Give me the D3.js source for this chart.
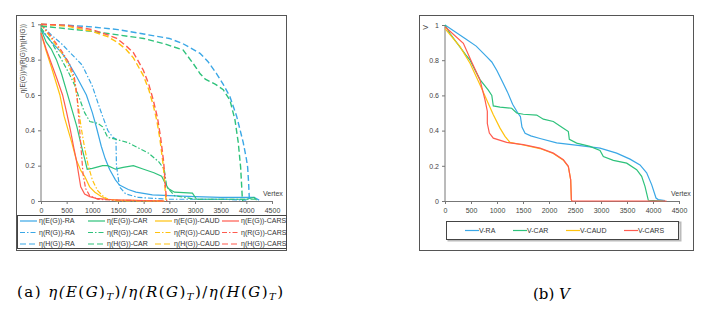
<!DOCTYPE html>
<html><head><meta charset="utf-8">
<script src="https://cdn.jsdelivr.net/npm/d3@7"></script>
<style>body{margin:0;background:#fff}svg{display:block}</style>
</head><body>
<svg id="c" width="715" height="311"></svg>
<script>
const xTicks = [0,500,1000,1500,2000,2500,3000,3500,4000,4500];
const yTicks = [0,0.2,0.4,0.6,0.8,1];
const methods = ["RA","CAR","CAUD","CARS"];
const colors = {RA:"#3aa7e6",CAR:"#2ec27b",CAUD:"#ffc20e",CARS:"#ff5b4f"};

// Left panel: eta(E(G)), eta(R(G)), eta(H(G)) per method: [vertex, value]
const E_RA = [[0,0.97],[200,0.9],[400,0.84],[500,0.8],[700,0.7],[884,0.6],[1000,0.5],[1077,0.42],[1174,0.31],[1250,0.24],[1335,0.18],[1450,0.12],[1530,0.09],[1700,0.065],[1850,0.05],[2170,0.035],[2500,0.03],[3000,0.025],[3500,0.02],[4000,0.02],[4150,0.02],[4250,0.005]];
const E_CAR = [[0,0.97],[100,0.9],[200,0.86],[300,0.8],[400,0.72],[500,0.62],[600,0.52],[700,0.42],[780,0.32],[850,0.24],[900,0.18],[1000,0.185],[1200,0.2],[1300,0.2],[1450,0.18],[1600,0.19],[1800,0.2],[2000,0.18],[2200,0.16],[2350,0.14],[2420,0.1],[2480,0.07],[2600,0.05],[2950,0.045],[3030,0.01],[4000,0.01],[4150,0.02],[4200,0.005]];
const E_CAUD = [[0,0.95],[100,0.85],[200,0.76],[368,0.6],[450,0.48],[530,0.4],[600,0.33],[690,0.23],[780,0.17],[850,0.14],[948,0.08],[1050,0.05],[1174,0.025],[1300,0.01],[1500,0.005],[2400,0]];
const E_CARS = [[0,0.95],[100,0.86],[200,0.78],[300,0.7],[420,0.6],[500,0.5],[574,0.4],[640,0.3],[690,0.23],[740,0.14],[774,0.08],[850,0.04],[950,0.025],[1077,0.015],[1400,0.007],[2400,0]];
const R_RA = [[0,1],[200,0.94],[400,0.89],[600,0.83],[800,0.77],[1000,0.65],[1150,0.52],[1300,0.4],[1400,0.36],[1460,0.35],[1470,0.2],[1530,0.08],[1650,0.04],[1900,0.02],[2500,0.01],[3500,0.01],[4000,0.005]];
const R_CAR = [[0,0.98],[200,0.9],[400,0.8],[550,0.72],[650,0.66],[750,0.58],[850,0.5],[950,0.45],[1100,0.44],[1200,0.42],[1300,0.36],[1450,0.35],[1700,0.33],[1900,0.3],[2100,0.27],[2300,0.22],[2400,0.18],[2450,0.08],[2600,0.03],[3000,0.01],[4000,0.01],[4200,0.01]];
const R_CAUD = [[0,1],[200,0.92],[400,0.84],[550,0.76],[650,0.68],[720,0.55],[780,0.42],[850,0.3],[920,0.2],[1000,0.12],[1100,0.06],[1200,0.03],[1300,0.01],[1500,0],[2400,0]];
const R_CARS = [[0,1],[200,0.93],[400,0.85],[550,0.78],[650,0.7],[700,0.6],[740,0.45],[780,0.3],[820,0.15],[870,0.07],[950,0.03],[1100,0.01],[1400,0.005],[2400,0]];
const H_RA = [[0,1],[500,0.995],[1000,0.985],[1500,0.97],[2000,0.945],[2500,0.92],[2766,0.89],[3097,0.836],[3250,0.79],[3422,0.72],[3550,0.66],[3681,0.59],[3811,0.48],[3880,0.4],[3940,0.33],[4000,0.24],[4026,0.19],[4045,0.1],[4057,0.02],[4060,0]];
const H_CAR = [[0,0.99],[500,0.975],[1000,0.96],[1500,0.94],[2000,0.92],[2400,0.89],[2766,0.855],[2960,0.78],[3100,0.72],[3200,0.69],[3400,0.66],[3550,0.63],[3681,0.57],[3778,0.46],[3843,0.33],[3889,0.19],[3910,0.08],[3921,0.02],[3930,0]];
const H_CAUD = [[0,1],[500,0.99],[1000,0.96],[1300,0.93],[1476,0.9],[1650,0.86],[1800,0.81],[1994,0.71],[2100,0.63],[2188,0.54],[2260,0.45],[2317,0.35],[2382,0.2],[2410,0.1],[2430,0.02],[2440,0]];
const H_CARS = [[0,1],[500,0.995],[1000,0.97],[1300,0.94],[1476,0.92],[1650,0.88],[1800,0.84],[1994,0.74],[2100,0.66],[2188,0.57],[2270,0.47],[2330,0.36],[2390,0.22],[2420,0.1],[2440,0.02],[2450,0]];

// Right panel: V per method
const V_RA = [[0,1],[200,0.96],[400,0.92],[600,0.88],[800,0.82],[900,0.79],[1000,0.74],[1100,0.68],[1200,0.62],[1300,0.55],[1400,0.5],[1450,0.48],[1480,0.42],[1540,0.385],[1650,0.37],[1827,0.355],[2147,0.33],[2596,0.315],[2981,0.3],[3301,0.272],[3558,0.238],[3750,0.205],[3878,0.16],[3974,0.093],[4058,0.017],[4100,0.008],[4230,0.003]];
const V_CAR = [[0,1],[100,0.95],[200,0.91],[300,0.87],[400,0.83],[481,0.8],[550,0.76],[673,0.69],[833,0.63],[900,0.6],[929,0.54],[1058,0.533],[1282,0.527],[1378,0.5],[1506,0.493],[1763,0.488],[1891,0.465],[2083,0.452],[2276,0.414],[2372,0.395],[2391,0.35],[2532,0.329],[2788,0.31],[2981,0.287],[3045,0.253],[3237,0.231],[3494,0.215],[3686,0.178],[3782,0.14],[3846,0.083],[3910,0.004],[4200,0]];
const V_CAUD = [[0,0.98],[288,0.877],[481,0.783],[673,0.66],[801,0.575],[929,0.49],[1058,0.414],[1154,0.367],[1250,0.333],[1506,0.318],[1827,0.298],[2083,0.27],[2276,0.232],[2372,0.195],[2417,0.12],[2430,0.008],[2440,0]];
const V_CARS = [[0,0.99],[353,0.896],[513,0.79],[673,0.688],[769,0.575],[814,0.51],[814,0.44],[853,0.386],[929,0.357],[1186,0.333],[1506,0.32],[1827,0.3],[2083,0.272],[2276,0.234],[2372,0.197],[2417,0.121],[2430,0.008],[2440,0],[4260,0]];

const leftSeries = [
  {name:"η(E(G))-RA",m:"RA",t:"E",d:E_RA},{name:"η(E(G))-CAR",m:"CAR",t:"E",d:E_CAR},{name:"η(E(G))-CAUD",m:"CAUD",t:"E",d:E_CAUD},{name:"η(E(G))-CARS",m:"CARS",t:"E",d:E_CARS},
  {name:"η(R(G))-RA",m:"RA",t:"R",d:R_RA},{name:"η(R(G))-CAR",m:"CAR",t:"R",d:R_CAR},{name:"η(R(G))-CAUD",m:"CAUD",t:"R",d:R_CAUD},{name:"η(R(G))-CARS",m:"CARS",t:"R",d:R_CARS},
  {name:"η(H(G))-RA",m:"RA",t:"H",d:H_RA},{name:"η(H(G))-CAR",m:"CAR",t:"H",d:H_CAR},{name:"η(H(G))-CAUD",m:"CAUD",t:"H",d:H_CAUD},{name:"η(H(G))-CARS",m:"CARS",t:"H",d:H_CARS}
];
const rightSeries = [
  {name:"V-RA",m:"RA",d:V_RA},{name:"V-CAR",m:"CAR",d:V_CAR},{name:"V-CAUD",m:"CAUD",d:V_CAUD},{name:"V-CARS",m:"CARS",d:V_CARS}
];
const dashes = {E:null,R:"5,2,1.5,2",H:"6,3"};

const svg = d3.select("#c");
const font = "Liberation Sans, Arial, sans-serif";

function panel(g, x0, x1, y0, y1) {
  const x = d3.scaleLinear().domain([0,4500]).range([x0,x1]);
  const y = d3.scaleLinear().domain([0,1]).range([y0,y1]);
  const xa = svg.append("g").attr("transform",`translate(0,${y0})`)
    .call(d3.axisBottom(x).tickValues(xTicks).tickSize(3).tickFormat(d3.format("d")));
  const ya = svg.append("g").attr("transform",`translate(${x0},0)`)
    .call(d3.axisLeft(y).tickValues(yTicks).tickSize(3).tickFormat(d=>d===0?"0":d===1?"1":d3.format(".1f")(d)));
  [xa,ya].forEach(a=>{
    a.selectAll("path,line").attr("stroke","#777").attr("stroke-width",1);
    a.selectAll("text").attr("fill","#444").style("font-family",font).style("font-size","7px");
  });
  xa.selectAll("text").attr("dy","0.9em");
  ya.selectAll(".domain").remove();
  svg.append("line").attr("x1",x0).attr("x2",x0).attr("y1",y0).attr("y2",y1).attr("stroke","#777");
  return {x,y};
}

// frames
svg.append("rect").attr("x",16.5).attr("y",15.5).attr("width",270).attr("height",235).attr("fill","none").attr("stroke","#555");
svg.append("rect").attr("x",419.5).attr("y",15.5).attr("width",274).attr("height",235).attr("fill","none").attr("stroke","#555");

// left panel
const L = panel(svg, 41, 272, 201, 24.3);
const line = (s)=>d3.line().x(d=>s.x(d[0])).y(d=>s.y(d[1]));
const lg = svg.append("g");
["E","R","H"].forEach(t=>{
  leftSeries.filter(s=>s.t===t).forEach(s=>{
    lg.append("path").datum(s.d).attr("d",line(L)).attr("fill","none")
      .attr("stroke",colors[s.m]).attr("stroke-width",t==="H"?1.4:1.2)
      .attr("stroke-dasharray",dashes[t]);
  });
});
svg.append("text").attr("x",263).attr("y",196).text("Vertex").attr("fill","#444").style("font-family",font).style("font-size","7px");
svg.append("text").attr("transform","translate(25,24) rotate(-90)").attr("text-anchor","end")
  .text("η(E(G))/η(R(G))/η(H(G))").attr("fill","#444").style("font-family",font).style("font-size","6.5px");

// left legend
svg.append("rect").attr("x",17.5).attr("y",215.5).attr("width",269).attr("height",33).attr("fill","#fff").attr("stroke","#444");
const colX = [20,88,155,222], rowY = [221,232.5,244];
leftSeries.forEach((s,i)=>{
  const c = methods.indexOf(s.m), r = ["E","R","H"].indexOf(s.t);
  const g = svg.append("g").attr("transform",`translate(${colX[c]},${rowY[r]})`);
  g.append("line").attr("x1",0).attr("x2",17).attr("stroke",colors[s.m]).attr("stroke-width",1.2).attr("stroke-dasharray",dashes[s.t]);
  g.append("text").attr("x",19).attr("dy","0.33em").text(s.name).attr("fill","#333").style("font-family",font).style("font-size","7px");
});

// right panel
const R = panel(svg, 445, 679, 201, 25);
rightSeries.forEach(s=>{
  svg.append("path").datum(s.d).attr("d",line(R)).attr("fill","none").attr("stroke",colors[s.m]).attr("stroke-width",1.2);
});
svg.append("text").attr("x",671).attr("y",196).text("Vertex").attr("fill","#444").style("font-family",font).style("font-size","7px");
svg.append("text").attr("transform","translate(428,25) rotate(-90)").attr("text-anchor","end")
  .text("V").attr("fill","#444").style("font-family",font).style("font-size","7px");
// right legend
svg.append("rect").attr("x",448.5).attr("y",222.5).attr("width",232).attr("height",18).attr("fill","none").attr("stroke","#bbb").attr("stroke-width",2);
svg.append("rect").attr("x",446.5).attr("y",221.5).attr("width",232).attr("height",18).attr("fill","#fff").attr("stroke","#444");
const rColX = [465,513,566,624];
rightSeries.forEach((s,i)=>{
  const g = svg.append("g").attr("transform",`translate(${rColX[i]},230.5)`);
  g.append("line").attr("x1",0).attr("x2",14).attr("stroke",colors[s.m]).attr("stroke-width",1.2);
  g.append("text").attr("x",14).attr("dy","0.33em").text(s.name).attr("fill","#333").style("font-family",font).style("font-size","7px");
});

// captions
const serif = "DejaVu Serif, Liberation Serif, serif";
const capA = svg.append("text").attr("x",17).attr("y",297).style("font-family",serif).style("font-size","15px").attr("fill","#000")
  .attr("textLength",266).attr("lengthAdjust","spacing");
capA.append("tspan").text("(a)  ");
const parts = [["η(","i"],["E","i"],["(","n"],["G","i"],[")","n"],["T","s"],[")/","n"],["η(","i"],["R","i"],["(","n"],["G","i"],[")","n"],["T","s"],[")/","n"],["η(","i"],["H","i"],["(","n"],["G","i"],[")","n"],["T","s"],[")","n"]];
let prevSub = false;
parts.forEach(p=>{
  const t = capA.append("tspan").text(p[0]);
  if(p[1]==="i") t.style("font-style","italic");
  if(p[1]==="s") { t.style("font-style","italic").style("font-size","10px").attr("dy",3); prevSub = true; }
  else if(prevSub) { t.attr("dy",-3); prevSub = false; }
});
const capB = svg.append("text").attr("x",533).attr("y",299).style("font-family",serif).style("font-size","15px").attr("fill","#000");
capB.append("tspan").text("(b)  ");
capB.append("tspan").text("V").style("font-style","italic");
</script>
</body></html>
